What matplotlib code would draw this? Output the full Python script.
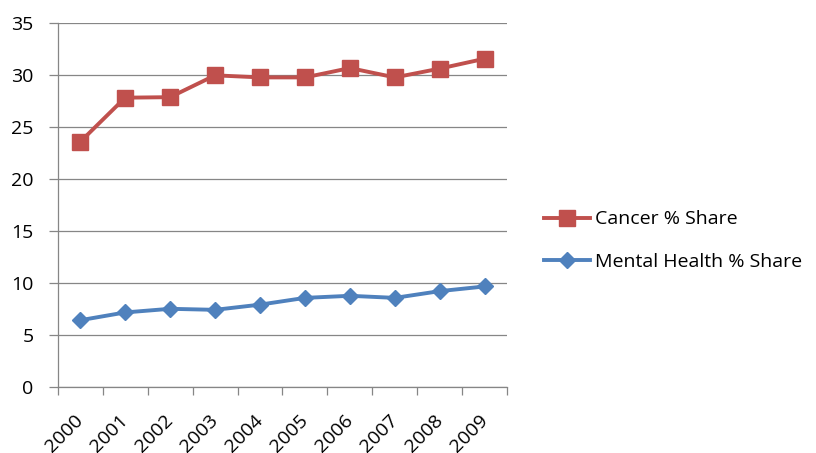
import matplotlib.pyplot as plt
import numpy as np

# Share of spending by year (%)
years = ["2000", "2001", "2002", "2003", "2004", "2005", "2006", "2007", "2008", "2009"]
cancer_share = [23.6, 27.85, 27.9, 30.0, 29.8, 29.8, 30.7, 29.8, 30.65, 31.6]
mental_share = [6.45, 7.2, 7.55, 7.45, 7.95, 8.6, 8.8, 8.6, 9.25, 9.7]

plt.rcParams['font.family'] = ['Open Sans', 'DejaVu Sans']

red = '#C0504D'
blue = '#4F81BD'
grid_grey = '#868686'

fig = plt.figure(figsize=(8.16, 4.53), dpi=100)
ax = fig.add_axes([0.0707, 0.145, 0.551, 0.8035])

x = np.arange(len(years))
ax.plot(x, cancer_share, color=red, lw=2.8, marker='s', ms=12,
        markeredgecolor=red, label='Cancer % Share')
ax.plot(x, mental_share, color=blue, lw=2.8, marker='D', ms=8.5,
        markeredgecolor=blue, label='Mental Health % Share')

ax.set_xlim(-0.5, len(years) - 0.5)
ax.set_ylim(0, 35)
ax.set_yticks(np.arange(0, 36, 5))
ax.yaxis.grid(True, color=grid_grey, lw=0.9)
ax.set_axisbelow(True)

# category labels at the centres, tick marks between categories
ax.set_xticks(x)
ax.set_xticklabels(years, rotation=45, ha='right', va='center', rotation_mode='anchor')
ax.tick_params(axis='x', which='major', length=0, pad=22, labelsize=14)
ax.set_xticks(np.arange(-0.5, len(years)), minor=True)
ax.tick_params(axis='x', which='minor', length=6, color=grid_grey, width=0.9)
ax.tick_params(axis='y', length=6.5, color=grid_grey, width=0.9, labelsize=14, pad=11)

for side in ['top', 'right']:
    ax.spines[side].set_visible(False)
for side in ['left', 'bottom']:
    ax.spines[side].set_color(grid_grey)
    ax.spines[side].set_linewidth(0.9)

fig.legend(loc='center left', bbox_to_anchor=(0.645, 0.469), frameon=False,
           fontsize=14, handlelength=2.4, handletextpad=0.25, labelspacing=1.25)

fig.savefig('out.png', dpi=100)
